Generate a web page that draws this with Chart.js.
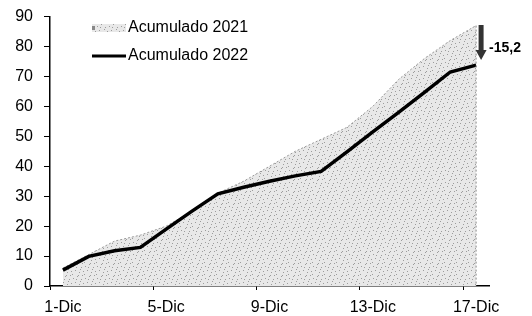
<!DOCTYPE html>
<html>
<head>
<meta charset="UTF-8">
<title>Acumulado diciembre</title>
<script src="https://cdn.jsdelivr.net/npm/chart.js"></script>
<style>
  body { margin: 0; background: #fff; }
  #wrap { width: 532px; height: 316px; position: relative; }
</style>
</head>
<body>
<div id="wrap"><canvas id="chart"></canvas></div>
<script>
// days of December
const days = ['1-Dic','2-Dic','3-Dic','4-Dic','5-Dic','6-Dic','7-Dic','8-Dic','9-Dic',
              '10-Dic','11-Dic','12-Dic','13-Dic','14-Dic','15-Dic','16-Dic','17-Dic'];
const acum2021 = [6, 10.5, 15, 17, 20, 25, 31, 35, 40, 45, 49, 53, 60, 69, 76, 82, 87];
const acum2022 = [5.3, 9.9, 11.8, 12.9, 19, 25, 30.8, 33, 35, 36.8, 38.3, 44.8, 51.5, 58, 64.7, 71.5, 73.8];
const yTicks = [0, 10, 20, 30, 40, 50, 60, 70, 80, 90];
const diffLabel = '-15,2';

const FONT = 'Arial, "Liberation Sans", sans-serif';

// stippled grey texture like the scanned area fill
function makePattern() {
  const c = document.createElement('canvas');
  c.width = 12; c.height = 12;
  const g = c.getContext('2d');
  g.fillStyle = '#e8e8e8';
  g.fillRect(0, 0, 12, 12);
  g.fillStyle = '#9c9c9c';
  [[1,2],[5,0],[9,3],[3,6],[7,8],[11,7],[0,10],[6,11],[10,11],[4,3],[8,5]]
    .forEach(([x, y]) => g.fillRect(x, y, 1, 1));
  return g.createPattern(c, 'repeat');
}
const stipple = makePattern();

// legend inside the plot, vertical dotted edge, and the -15,2 arrow
const extras = {
  id: 'extras',
  afterDatasetsDraw(chart) {
    const ctx = chart.ctx;
    const area = chart.chartArea;
    const m21 = chart.getDatasetMeta(0).data;
    const m22 = chart.getDatasetMeta(1).data;
    const last21 = m21[m21.length - 1];
    const last22 = m22[m22.length - 1];
    ctx.save();

    // right edge of the 2021 area
    ctx.strokeStyle = '#8a8a8a';
    ctx.lineWidth = 1;
    ctx.setLineDash([2, 2]);
    ctx.beginPath();
    ctx.moveTo(last21.x, last21.y);
    ctx.lineTo(last21.x, area.bottom);
    ctx.stroke();
    ctx.setLineDash([]);

    // arrow
    const ax = last22.x + 5, top = last22.y - 40, tip = last22.y - 5;
    ctx.fillStyle = '#333';
    ctx.beginPath();
    ctx.moveTo(ax - 2.5, top);
    ctx.lineTo(ax + 2.5, top);
    ctx.lineTo(ax + 2.5, tip - 10);
    ctx.lineTo(ax + 5.5, tip - 10);
    ctx.lineTo(ax, tip);
    ctx.lineTo(ax - 5.5, tip - 10);
    ctx.lineTo(ax - 2.5, tip - 10);
    ctx.closePath();
    ctx.fill();
    ctx.fillStyle = '#000';
    ctx.font = 'bold 14px ' + FONT;
    ctx.textAlign = 'left';
    ctx.textBaseline = 'middle';
    ctx.fillText(diffLabel, ax + 8, last22.y - 17);

    // legend
    const lx = 92, lw = 34;
    ctx.fillStyle = stipple;
    ctx.fillRect(lx, 24, lw, 8);
    ctx.fillStyle = '#888';
    ctx.fillRect(lx, 26, 3, 4);
    ctx.strokeStyle = '#000';
    ctx.lineWidth = 3;
    ctx.beginPath();
    ctx.moveTo(lx, 56);
    ctx.lineTo(lx + lw, 56);
    ctx.stroke();
    ctx.fillStyle = '#000';
    ctx.font = '16px ' + FONT;
    ctx.textBaseline = 'middle';
    ctx.fillText(chart.data.datasets[0].label, lx + lw + 2, 28);
    ctx.fillText(chart.data.datasets[1].label, lx + lw + 2, 56);
    ctx.restore();
  }
};

new Chart(document.getElementById('chart'), {
  type: 'line',
  data: {
    labels: days,
    datasets: [{
      label: 'Acumulado 2021',
      data: acum2021,
      fill: 'origin',
      backgroundColor: stipple,
      borderColor: '#9a9a9a',
      borderWidth: 1,
      borderDash: [2, 2],
      pointRadius: 0,
      tension: 0,
      order: 2
    }, {
      label: 'Acumulado 2022',
      data: acum2022,
      fill: false,
      borderColor: '#000',
      borderWidth: 3.5,
      pointRadius: 0,
      tension: 0,
      order: 1
    }]
  },
  options: {
    responsive: true,
    maintainAspectRatio: false,
    animation: false,
    layout: { padding: { top: 2, right: 43, left: 0, bottom: 0 } },
    plugins: { legend: { display: false }, tooltip: { enabled: false } },
    scales: {
      x: {
        offset: true,
        grid: {
          offset: true,
          drawOnChartArea: false,
          tickLength: 4,
          color: c => (c.index % 4 === 0 ? '#000' : 'rgba(0,0,0,0)')
        },
        border: { color: '#000', width: 1.5 },
        ticks: {
          autoSkip: false,
          maxRotation: 0,
          color: '#000',
          padding: 8,
          font: { family: FONT, size: 16 },
          callback: (v, i) => (i % 4 === 0 ? days[i] : '')
        },
        afterFit: s => { s.height = 30; }
      },
      y: {
        min: yTicks[0],
        max: yTicks[yTicks.length - 1],
        afterBuildTicks: s => { s.ticks = yTicks.map(v => ({ value: v })); },
        grid: { drawOnChartArea: false, tickLength: 6, color: '#000' },
        border: { color: '#000', width: 1.5 },
        ticks: {
          color: '#000',
          padding: 11,
          font: { family: FONT, size: 16, lineHeight: 0.7 }
        },
        afterFit: s => { s.width = 50; }
      }
    }
  },
  plugins: [extras]
});
</script>
</body>
</html>
